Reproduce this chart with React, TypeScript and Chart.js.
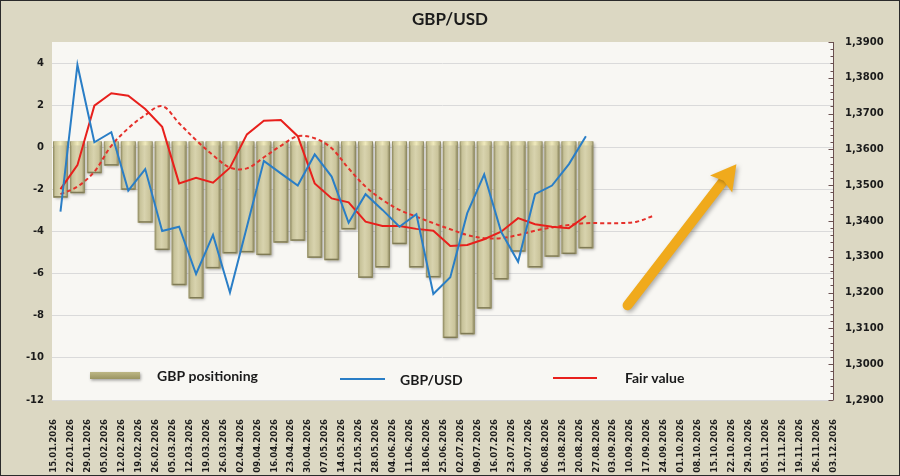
import { useEffect, useRef } from "react";
import { Chart, registerables, type Plugin } from "chart.js";

Chart.register(...registerables);

/* weekly dates on the x axis */
const DATES = [
  "15.01.2026", "22.01.2026", "29.01.2026",
  "05.02.2026", "12.02.2026", "19.02.2026", "26.02.2026",
  "05.03.2026", "12.03.2026", "19.03.2026", "26.03.2026",
  "02.04.2026", "09.04.2026", "16.04.2026", "23.04.2026", "30.04.2026",
  "07.05.2026", "14.05.2026", "21.05.2026", "28.05.2026",
  "04.06.2026", "11.06.2026", "18.06.2026", "25.06.2026",
  "02.07.2026", "09.07.2026", "16.07.2026", "23.07.2026", "30.07.2026",
  "06.08.2026", "13.08.2026", "20.08.2026", "27.08.2026",
  "03.09.2026", "10.09.2026", "17.09.2026", "24.09.2026",
  "01.10.2026", "08.10.2026", "15.10.2026", "22.10.2026", "29.10.2026",
  "05.11.2026", "12.11.2026", "19.11.2026", "26.11.2026",
  "03.12.2026",
];

/* GBP positioning (left axis) */
const POSITIONING = [
  -2.39, -2.18, -1.23, -0.87, -2.02, -3.58, -4.88, -6.55, -7.18, -5.75,
  -5.04, -4.99, -5.12, -4.53, -4.44, -5.25, -5.36, -3.9, -6.2, -5.71,
  -4.6, -5.71, -6.18, -9.06, -8.88, -7.66, -6.28, -4.96, -5.71, -5.2,
  -5.07, -4.8,
];

/* GBP/USD spot (right axis) */
const GBPUSD = [
  1.3426, 1.3836, 1.362, 1.3648, 1.3485, 1.3545, 1.3372, 1.3384, 1.3252, 1.3361,
  1.32, 1.3384, 1.3568, 1.3533, 1.3499, 1.3586, 1.3524, 1.3395, 1.3475, 1.3431,
  1.3384, 1.3419, 1.3196, 1.3243, 1.3422, 1.353, 1.337, 1.3286, 1.3475, 1.3499,
  1.3559, 1.3637,
];

/* fair value (right axis) */
const FAIR_VALUE = [
  1.3489, 1.3556, 1.3722, 1.3757, 1.375, 1.3713, 1.3663, 1.3505, 1.3521, 1.3507,
  1.3549, 1.3642, 1.368, 1.3682, 1.3637, 1.3505, 1.3463, 1.3452, 1.3398, 1.3386,
  1.3386, 1.3378, 1.3373, 1.333, 1.3333, 1.3349, 1.337, 1.3408, 1.3391, 1.3384,
  1.338, 1.3414,
];

/* smoothed fair value, runs a few weeks further */
const FAIR_TREND = [
  1.3475, 1.3496, 1.3538, 1.361, 1.3659, 1.3696, 1.3721, 1.3673, 1.3626, 1.3584,
  1.3549, 1.3547, 1.3578, 1.361, 1.3637, 1.3631, 1.3603, 1.3547, 1.3496, 1.3459,
  1.3431, 1.3412, 1.3394, 1.3377, 1.3361, 1.3352, 1.3352, 1.3361, 1.3373, 1.3382,
  1.3389, 1.3394, 1.3394, 1.3394, 1.3398, 1.3415,
];

/* arrow annotation, in (week index, left-axis value) */
const ARROW_FROM = [33.46, -7.5];
const ARROW_TO = [39.88, -0.8];

const TICK_FONT = "DejaVu Sans";
const LABEL_FONT = "Lato";
const INK = "#1b1b1b";

const toXY = (arr: number[]) => arr.map((y, x) => ({ x, y }));

const backdrop: Plugin = {
  id: "backdrop",
  beforeDraw(chart) {
    const { ctx, width, height, chartArea: a } = chart;
    ctx.save();
    ctx.fillStyle = "#dcd8c3";
    ctx.fillRect(0, 0, width, height);
    ctx.fillStyle = "#f8f7f3";
    ctx.fillRect(a.left, a.top, a.right - a.left, a.bottom - a.top);
    ctx.restore();
  },
};

const barLook: Plugin = {
  id: "barLook",
  beforeDatasetDraw(chart, args) {
    if (args.index !== 0) return;
    const ctx = chart.ctx;
    ctx.save();
    ctx.shadowColor = "rgba(0,0,0,0.35)";
    ctx.shadowBlur = 3;
    ctx.shadowOffsetX = 1.5;
    ctx.shadowOffsetY = 1.5;
  },
  afterDatasetDraw(chart, args) {
    if (args.index !== 0) return;
    const ctx = chart.ctx;
    ctx.restore();
    chart.getDatasetMeta(0).data.forEach((el: any) => {
      const left = el.x - el.width / 2;
      const right = el.x + el.width / 2;
      const top = Math.min(el.y, el.base);
      const bottom = Math.max(el.y, el.base);
      const g = ctx.createLinearGradient(left, 0, right, 0);
      g.addColorStop(0, "#8c875e");
      g.addColorStop(0.16, "#c8c39a");
      g.addColorStop(0.45, "#d8d3ae");
      g.addColorStop(0.8, "#cac49b");
      g.addColorStop(1, "#827d55");
      ctx.fillStyle = g;
      ctx.fillRect(left, top, right - left, bottom - top);
      const cap = ctx.createLinearGradient(left, 0, right, 0);
      cap.addColorStop(0, "#b9b486");
      cap.addColorStop(0.5, "#f0eabd");
      cap.addColorStop(1, "#b2ad7f");
      ctx.fillStyle = cap;
      ctx.fillRect(left + 1, top, right - left - 2, 4);
      ctx.fillStyle = "#7f7a55";
      ctx.fillRect(left + 1, bottom - 1.5, right - left - 2, 1.5);
    });
  },
};

const arrow: Plugin = {
  id: "arrow",
  afterDatasetsDraw(chart) {
    const { ctx } = chart;
    const sx = chart.scales.x;
    const sy = chart.scales.y;
    const x0 = sx.getPixelForValue(ARROW_FROM[0]);
    const y0 = sy.getPixelForValue(ARROW_FROM[1]);
    const x1 = sx.getPixelForValue(ARROW_TO[0]);
    const y1 = sy.getPixelForValue(ARROW_TO[1]);
    const len = Math.hypot(x1 - x0, y1 - y0);
    const ux = (x1 - x0) / len;
    const uy = (y1 - y0) / len;
    const nx = -uy;
    const ny = ux;
    const headLen = 25;
    const headHalf = 14;
    const bx = x1 - ux * headLen;
    const by = y1 - uy * headLen;
    ctx.save();
    ctx.shadowColor = "rgba(0,0,0,0.3)";
    ctx.shadowBlur = 4;
    ctx.shadowOffsetX = 2;
    ctx.shadowOffsetY = 2;
    ctx.strokeStyle = "#f0aa1c";
    ctx.fillStyle = "#f0aa1c";
    ctx.lineWidth = 10;
    ctx.lineCap = "round";
    ctx.beginPath();
    ctx.moveTo(x0, y0);
    ctx.lineTo(bx + ux * 3, by + uy * 3);
    ctx.stroke();
    ctx.beginPath();
    ctx.moveTo(x1, y1);
    ctx.lineTo(bx + nx * headHalf, by + ny * headHalf);
    ctx.lineTo(bx + ux * 4, by + uy * 4);
    ctx.lineTo(bx - nx * headHalf, by - ny * headHalf);
    ctx.closePath();
    ctx.fill();
    ctx.restore();
  },
};

const decor: Plugin = {
  id: "decor",
  afterDraw(chart) {
    const { ctx, width, height, chartArea: a } = chart;
    const s = chart.scales.y2;
    ctx.save();

    /* right axis line with minor ticks */
    ctx.strokeStyle = "#6a5050";
    ctx.lineWidth = 1;
    ctx.beginPath();
    ctx.moveTo(a.right + 0.5, a.top);
    ctx.lineTo(a.right + 0.5, a.bottom);
    for (let k = 0; k <= 50; k++) {
      const py = Math.round(s.getPixelForValue(s.min + k * 0.002)) + 0.5;
      const l = k % 5 === 0 ? 5 : 3;
      ctx.moveTo(a.right + 0.5 - l, py);
      ctx.lineTo(a.right + 0.5, py);
    }
    ctx.stroke();

    /* title */
    ctx.fillStyle = INK;
    ctx.font = `bold 17px ${LABEL_FONT}`;
    ctx.textAlign = "center";
    ctx.textBaseline = "middle";
    ctx.fillText("GBP/USD", width / 2, 20);

    /* legend */
    ctx.save();
    ctx.shadowColor = "rgba(0,0,0,0.35)";
    ctx.shadowBlur = 3;
    ctx.shadowOffsetX = 1;
    ctx.shadowOffsetY = 1.5;
    const sw = ctx.createLinearGradient(0, 372, 0, 380);
    sw.addColorStop(0, "#bdb785");
    sw.addColorStop(1, "#958f5c");
    ctx.fillStyle = sw;
    ctx.fillRect(90, 372, 50, 7);
    ctx.restore();

    ctx.lineWidth = 2;
    ctx.strokeStyle = "#2a7ec6";
    ctx.beginPath();
    ctx.moveTo(340, 379);
    ctx.lineTo(385, 379);
    ctx.stroke();
    ctx.strokeStyle = "#e8201c";
    ctx.beginPath();
    ctx.moveTo(553, 378);
    ctx.lineTo(597, 378);
    ctx.stroke();

    ctx.font = `bold 14px ${LABEL_FONT}`;
    ctx.textAlign = "left";
    ctx.fillStyle = INK;
    ctx.fillText("GBP positioning", 157, 376);
    ctx.fillText("GBP/USD", 400, 380);
    ctx.fillText("Fair value", 625, 378);

    /* frame */
    ctx.strokeStyle = "#2a2a2a";
    ctx.lineWidth = 1;
    ctx.strokeRect(0.5, 0.5, width - 1, height - 1);
    ctx.restore();
  },
};

export default function App() {
  const canvasRef = useRef<HTMLCanvasElement>(null);
  const chartRef = useRef<Chart | null>(null);

  useEffect(() => {
    document.body.style.margin = "0";
    if (!canvasRef.current) return;
    chartRef.current?.destroy();

    chartRef.current = new Chart(canvasRef.current, {
      type: "bar",
      data: {
        datasets: [
          {
            type: "bar",
            label: "GBP positioning",
            data: toXY(POSITIONING),
            yAxisID: "y",
            base: 0.28,
            backgroundColor: "#c8c299",
            borderWidth: 0,
            categoryPercentage: 1,
            barPercentage: 0.88,
            order: 4,
          } as any,
          {
            type: "line",
            label: "Fair value trend",
            data: toXY(FAIR_TREND),
            yAxisID: "y2",
            borderColor: "#e5302a",
            borderWidth: 2,
            borderDash: [4, 3],
            pointRadius: 0,
            tension: 0.35,
            order: 3,
          },
          {
            type: "line",
            label: "Fair value",
            data: toXY(FAIR_VALUE),
            yAxisID: "y2",
            borderColor: "#e8201c",
            borderWidth: 2,
            pointRadius: 0,
            tension: 0,
            order: 2,
          },
          {
            type: "line",
            label: "GBP/USD",
            data: toXY(GBPUSD),
            yAxisID: "y2",
            borderColor: "#2a7ec6",
            borderWidth: 2,
            pointRadius: 0,
            tension: 0,
            order: 1,
          },
        ],
      },
      options: {
        responsive: true,
        maintainAspectRatio: false,
        animation: false,
        layout: { padding: { top: 42, left: 0, right: 0, bottom: 0 } },
        plugins: {
          legend: { display: false },
          tooltip: { enabled: false },
        },
        scales: {
          x: {
            type: "linear",
            offset: false,
            min: -0.5,
            max: 45.58,
            grid: { display: false, offset: false },
            border: { display: false },
            afterBuildTicks: (axis: any) => {
              axis.ticks = DATES.map((_, i) => ({ value: i }));
            },
            afterFit: (axis: any) => {
              axis.height = 76;
            },
            ticks: {
              autoSkip: false,
              minRotation: 90,
              maxRotation: 90,
              padding: 11,
              labelOffset: -6.5,
              color: INK,
              font: { family: TICK_FONT, size: 8.5, weight: "bold" },
              callback: (v: any) => DATES[Number(v)] ?? "",
            },
          },
          y: {
            position: "left",
            min: -12,
            max: 5,
            grid: { color: "#dadada", drawTicks: false },
            border: { display: false },
            afterFit: (axis: any) => {
              axis.width = 52;
            },
            ticks: {
              stepSize: 2,
              includeBounds: false,
              padding: 8,
              color: INK,
              font: { family: TICK_FONT, size: 10, weight: "bold" },
            },
          },
          y2: {
            position: "right",
            min: 1.29,
            max: 1.39,
            grid: { drawOnChartArea: false, drawTicks: false },
            border: { display: false },
            afterFit: (axis: any) => {
              axis.width = 67;
            },
            ticks: {
              stepSize: 0.01,
              padding: 12,
              color: INK,
              font: { family: TICK_FONT, size: 10, weight: "bold" },
              callback: (v: any) => Number(v).toFixed(4).replace(".", ","),
            },
          },
        },
      },
      plugins: [backdrop, barLook, arrow, decor],
    });

    return () => {
      chartRef.current?.destroy();
      chartRef.current = null;
    };
  }, []);

  return (
    <div style={{ position: "relative", width: 900, height: 476 }}>
      <canvas ref={canvasRef} />
    </div>
  );
}
